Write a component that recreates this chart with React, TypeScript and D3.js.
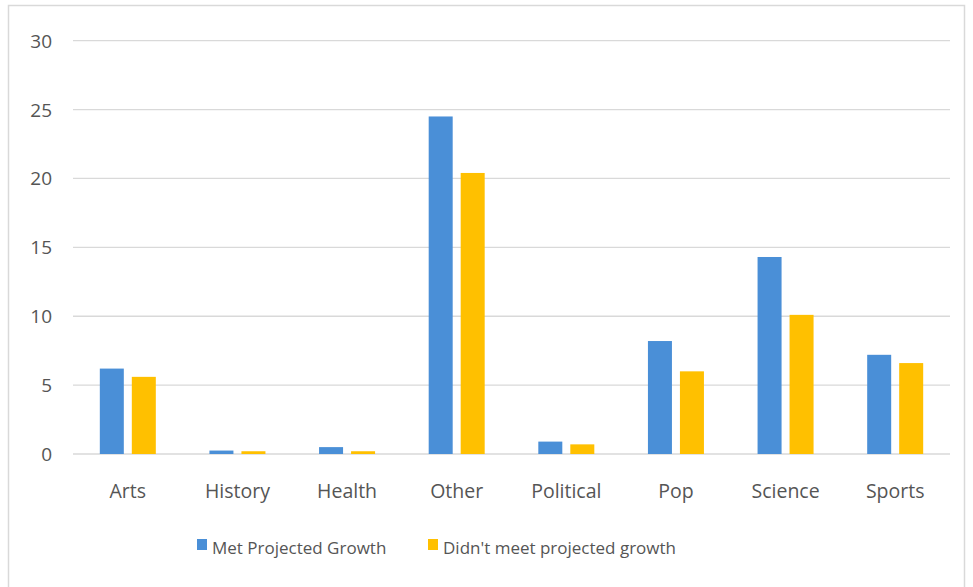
import React from "react";
import * as d3 from "d3";

const categories = ["Arts", "History", "Health", "Other", "Political", "Pop", "Science", "Sports"];
const seriesNames = ["Met Projected Growth", "Didn't meet projected growth"];
const metGrowth = [6.2, 0.25, 0.5, 24.5, 0.9, 8.2, 14.3, 7.2];
const didntMeet = [5.6, 0.2, 0.2, 20.4, 0.7, 6.0, 10.1, 6.6];
const yTicks = [0, 5, 10, 15, 20, 25, 30];
const colors = ["#4a8fd7", "#ffc000"];

const W = 973;
const H = 587;

export default function App() {
  const x = d3.scaleBand<string>().domain(categories).range([73, 950]).paddingInner(0).paddingOuter(0);
  const xs = d3.scaleBand<string>().domain(seriesNames).range([0, 56]).paddingInner(0.25).paddingOuter(0);
  const y = d3.scaleLinear().domain([0, 30]).range([454, 40.7]);
  const series = [metGrowth, didntMeet];
  const font = "'Open Sans', sans-serif";
  const textColor = "#555555";

  return (
    <svg width={W} height={H} style={{ position: "absolute", left: 0, top: 0, background: "#fff" }} fontFamily={font}>
      <rect x={8.5} y={5.5} width={956} height={590} fill="#fff" stroke="#d9d9d9" strokeWidth={1.5} />
      {yTicks.map((t) => (
        <g key={t}>
          <line x1={73} x2={950} y1={y(t)} y2={y(t)} stroke="#d9d9d9" strokeWidth={1.3} />
          <text x={52} y={y(t)} textAnchor="end" dominantBaseline="central" fontSize={19} fill={textColor}>
            {t}
          </text>
        </g>
      ))}
      {categories.map((c, i) => {
        const cx = (x(c) as number) + x.bandwidth() / 2;
        return (
          <g key={c}>
            {series.map((s, j) => {
              const bx = cx - 28 + (xs(seriesNames[j]) as number);
              return (
                <rect key={j} x={bx} y={y(s[i])} width={xs.bandwidth()} height={y(0) - y(s[i])} fill={colors[j]} />
              );
            })}
            <text x={cx} y={490} textAnchor="middle" dominantBaseline="central" fontSize={19.5} fill={textColor}>
              {c}
            </text>
          </g>
        );
      })}
      {seriesNames.map((n, j) => {
        const lx = [197, 428][j];
        return (
          <g key={n}>
            <rect x={lx} y={539} width={10} height={11} fill={colors[j]} />
            <text x={lx + 15} y={547} dominantBaseline="central" fontSize={17} fill={textColor}>
              {n}
            </text>
          </g>
        );
      })}
    </svg>
  );
}
